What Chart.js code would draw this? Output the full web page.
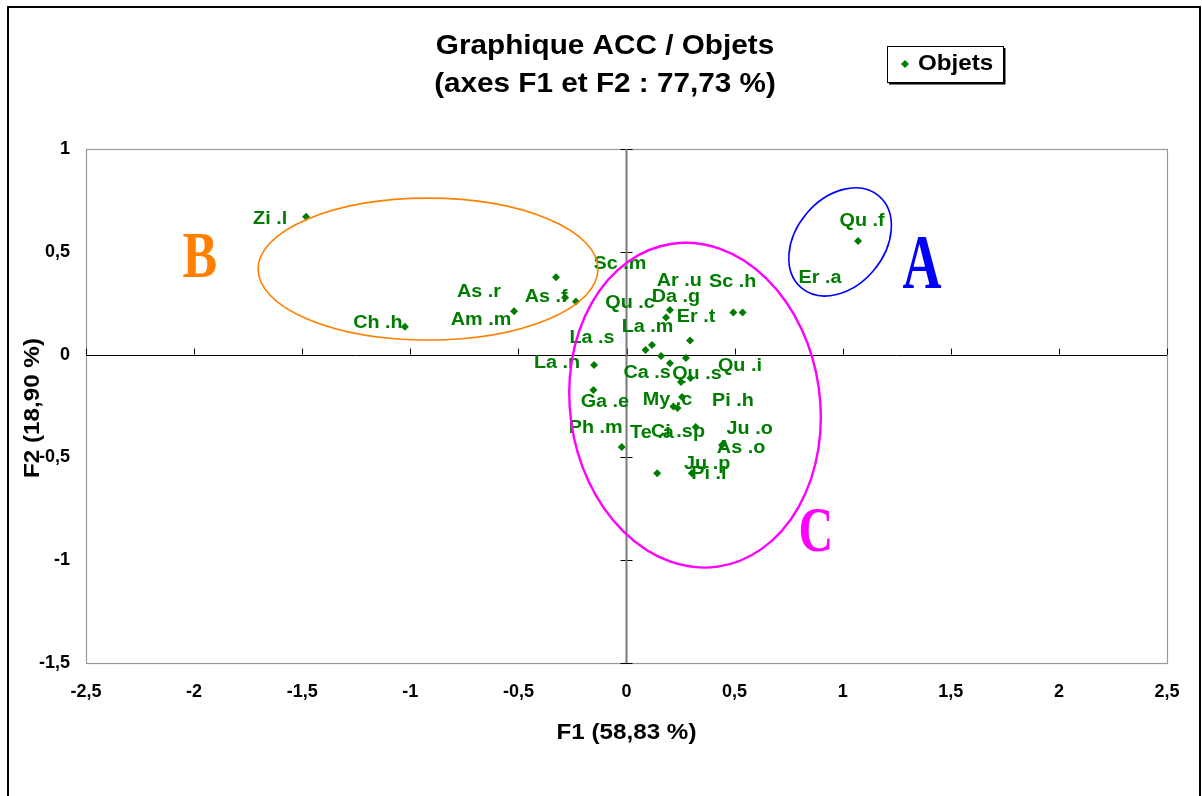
<!DOCTYPE html>
<html>
<head>
<meta charset="utf-8">
<script src="https://cdn.jsdelivr.net/npm/chart.js@4/dist/chart.umd.min.js"></script>
<style>
  html, body { margin: 0; padding: 0; background: #fff; }
  #wrap { width: 1202px; height: 796px; }
</style>
</head>
<body>
<div id="wrap"><canvas id="acc" width="1202" height="796"></canvas></div>
<script>
/* ACC objects plot, F1 x F2 */

const names = ['Zi .l', 'Ch .h', 'Am .m', 'As .r', 'As .f', 'Sc .m', 'Qu .f', 'Da .g', 'Qu .c', 'Ar .u',
               'Sc .h', 'Er .t', 'La .m', 'La .s', 'Ca .s', 'Qu .i', 'Qu .s', 'Pi .h', 'My .c', 'La .n',
               'Ga .e', 'Te .a', 'Ci .sp', 'Er .a', 'Ju .o', 'As .o', 'Ph .m', 'Ju .p', 'Pi .l'];
const f1 = [-1.482, -1.025, -0.520, -0.326, -0.284, -0.234, 1.071, 0.201, 0.183, 0.494,
            0.537, 0.294, 0.088, 0.118, 0.160, 0.275, 0.201, 0.252, 0.296, -0.150,
            -0.153, 0.217, 0.236, 0.257, 0.320, 0.442, -0.022, 0.142, 0.302];
const f2 = [0.671, 0.136, 0.211, 0.376, 0.278, 0.258, 0.553, 0.217, 0.181, 0.205,
            0.205, 0.069, 0.022, 0.047, -0.007, -0.017, -0.042, -0.133, -0.114, -0.051,
            -0.172, -0.252, -0.260, -0.206, -0.352, -0.440, -0.449, -0.577, -0.577];

const xTicks = [-2.5, -2, -1.5, -1, -0.5, 0, 0.5, 1, 1.5, 2, 2.5];
const yTicks = [-1.5, -1, -0.5, 0, 0.5, 1];

// where each data label sits relative to its point (px), labels were moved by hand in the original
const labelShift = [[-36, 2], [-27, -4], [-33, 9], [-77, 15], [-19, 0], [44, -38], [4, -20], [6, -13], [-36, -14], [-54, -31],
                    [-10, -30], [6, -23], [2, -23], [-60, -7], [-14, 17], [54, 8], [27, 11], [52, 19], [-23, 22], [-37, -2],
                    [11.5, 12], [-21.5, 26.5], [0.5, 24], [138, -119], [54, 2], [19, 3], [-26, -19], [50, -9], [17, 1]];

// groups drawn over the plot (data units)
const groups = [
  { letter: 'A', color: '#0000ff', cx: 0.988, cy: 0.548, rx: 0.278, ry: 0.214, rot: -50, w: 1.6, lx: 1.367, ly: 0.421, size: 54, stretch: 1.45 },
  { letter: 'B', color: '#ff8000', cx: -0.918, cy: 0.416, rx: 0.786, ry: 0.345, rot: 0, w: 1.6, lx: -1.973, ly: 0.460, size: 52, stretch: 1.25 },
  { letter: 'C', color: '#ff00ff', cx: 0.317, cy: -0.246, rx: 0.578, ry: 0.793, rot: -8, w: 2.4, lx: 0.876, ly: -0.877, size: 48, stretch: 1.3 }
];

const green = '#007d00';
const sans = '"Liberation Sans", Arial, sans-serif';
const comma = v => String(v).replace('.', ',');

function wideText(ctx, txt, x, y, font, sx, sy, align) {
  ctx.save();
  ctx.font = font;
  ctx.textAlign = align || 'center';
  ctx.textBaseline = 'middle';
  ctx.translate(x, y);
  ctx.scale(sx, sy);
  ctx.fillText(txt, 0, 0);
  ctx.restore();
}

const decor = {
  id: 'decor',
  beforeDraw(chart) {
    const { ctx, chartArea: a, scales: { x, y } } = chart;
    ctx.save();
    ctx.fillStyle = '#fff';
    ctx.fillRect(0, 0, chart.width, chart.height);
    ctx.strokeStyle = '#000';
    ctx.lineWidth = 2;
    ctx.strokeRect(8, 7, 1192, 820);
    // plot frame
    ctx.strokeStyle = '#999';
    ctx.lineWidth = 1.2;
    ctx.strokeRect(a.left + 0.5, a.top + 0.5, a.right - a.left, a.bottom - a.top);
    // axes through origin
    const x0 = x.getPixelForValue(0), y0 = y.getPixelForValue(0);
    ctx.strokeStyle = '#000';
    ctx.lineWidth = 1;
    ctx.beginPath();
    ctx.moveTo(a.left, Math.round(y0) + 0.5);
    ctx.lineTo(a.right, Math.round(y0) + 0.5);
    ctx.stroke();
    x.ticks.forEach(t => {
      const px = Math.round(x.getPixelForValue(t.value)) + 0.5;
      ctx.beginPath();
      ctx.moveTo(px, y0 - 6);
      ctx.lineTo(px, y0);
      ctx.stroke();
    });
    y.ticks.forEach(t => {
      const py = Math.round(y.getPixelForValue(t.value)) + 0.5;
      ctx.beginPath();
      ctx.moveTo(x0 - 6, py);
      ctx.lineTo(x0 + 6, py);
      ctx.stroke();
    });
    ctx.strokeStyle = '#7a7a7a';
    ctx.lineWidth = 2;
    ctx.beginPath();
    ctx.moveTo(x0, a.top);
    ctx.lineTo(x0, a.bottom);
    ctx.stroke();
    ctx.restore();
  },
  afterDatasetsDraw(chart) {
    const { ctx, scales: { x, y } } = chart;
    const ppx = Math.abs(x.getPixelForValue(1) - x.getPixelForValue(0));
    const ppy = Math.abs(y.getPixelForValue(1) - y.getPixelForValue(0));
    ctx.save();
    // data labels
    ctx.fillStyle = green;
    names.forEach((n, i) => {
      const px = x.getPixelForValue(f1[i]) + labelShift[i][0];
      const py = y.getPixelForValue(f2[i]) + labelShift[i][1];
      wideText(ctx, n, px, py, 'bold 18px ' + sans, 1.1, 1);
    });
    // group ellipses + letters
    groups.forEach(g => {
      ctx.strokeStyle = g.color;
      ctx.lineWidth = g.w;
      ctx.beginPath();
      ctx.ellipse(x.getPixelForValue(g.cx), y.getPixelForValue(g.cy), g.rx * ppx, g.ry * ppy,
                  g.rot * Math.PI / 180, 0, Math.PI * 2);
      ctx.stroke();
      ctx.fillStyle = g.color;
      wideText(ctx, g.letter, x.getPixelForValue(g.lx), y.getPixelForValue(g.ly),
               'bold ' + g.size + 'px "Liberation Serif", "Times New Roman", serif', 1, g.stretch);
    });
    ctx.restore();
  },
  afterDraw(chart) {
    const { ctx, chartArea: a } = chart;
    ctx.save();
    ctx.fillStyle = '#000';
    wideText(ctx, 'Graphique ACC / Objets', 605, 47, 'bold 27px ' + sans, 1.1, 1);
    wideText(ctx, '(axes F1 et F2 : 77,73 %)', 605, 85, 'bold 27px ' + sans, 1.1, 1);
    wideText(ctx, 'F1 (58,83 %)', (a.left + a.right) / 2, 733, 'bold 22px ' + sans, 1.1, 1);
    ctx.save();
    ctx.translate(33, (a.top + a.bottom) / 2 + 2);
    ctx.rotate(-Math.PI / 2);
    wideText(ctx, 'F2 (18,90 %)', 0, 0, 'bold 22px ' + sans, 1.1, 1);
    ctx.restore();
    // legend box
    ctx.fillStyle = '#fff';
    ctx.fillRect(887, 46, 116, 36);
    ctx.strokeStyle = '#000';
    ctx.lineWidth = 1;
    ctx.strokeRect(887.5, 46.5, 116, 36);
    ctx.lineWidth = 2;
    ctx.beginPath();
    ctx.moveTo(889, 83.5);
    ctx.lineTo(1004.5, 83.5);
    ctx.lineTo(1004.5, 48);
    ctx.stroke();
    ctx.fillStyle = green;
    ctx.beginPath();
    ctx.moveTo(905, 60);
    ctx.lineTo(909, 64);
    ctx.lineTo(905, 68);
    ctx.lineTo(901, 64);
    ctx.closePath();
    ctx.fill();
    ctx.fillStyle = '#000';
    wideText(ctx, 'Objets', 918, 64, 'bold 22px ' + sans, 1.1, 1, 'left');
    ctx.restore();
  }
};

new Chart(document.getElementById('acc'), {
  type: 'scatter',
  data: {
    datasets: [{
      label: 'Objets',
      data: names.map((n, i) => ({ x: f1[i], y: f2[i] })),
      pointStyle: 'rectRot',
      pointRadius: 4,
      pointHoverRadius: 4,
      backgroundColor: green,
      borderColor: green,
      borderWidth: 0
    }]
  },
  options: {
    responsive: false,
    animation: false,
    devicePixelRatio: 1,
    layout: { padding: { left: 0, top: 149, right: 35, bottom: 0 } },
    plugins: { legend: { display: false }, tooltip: { enabled: false } },
    scales: {
      x: {
        type: 'linear', min: -2.5, max: 2.5,
        afterBuildTicks: s => { s.ticks = xTicks.map(v => ({ value: v })); },
        afterFit: s => { s.height = 133; },
        grid: { display: false, drawTicks: false },
        border: { display: false },
        ticks: { color: '#000', padding: 18, maxRotation: 0, font: { family: sans, size: 18, weight: 'bold' }, callback: comma }
      },
      y: {
        type: 'linear', min: -1.5, max: 1,
        afterBuildTicks: s => { s.ticks = yTicks.map(v => ({ value: v })); },
        afterFit: s => { s.width = 86; },
        grid: { display: false, drawTicks: false },
        border: { display: false },
        ticks: { color: '#000', padding: 16, font: { family: sans, size: 18, weight: 'bold' }, callback: comma }
      }
    }
  },
  plugins: [decor]
});
</script>
</body>
</html>
